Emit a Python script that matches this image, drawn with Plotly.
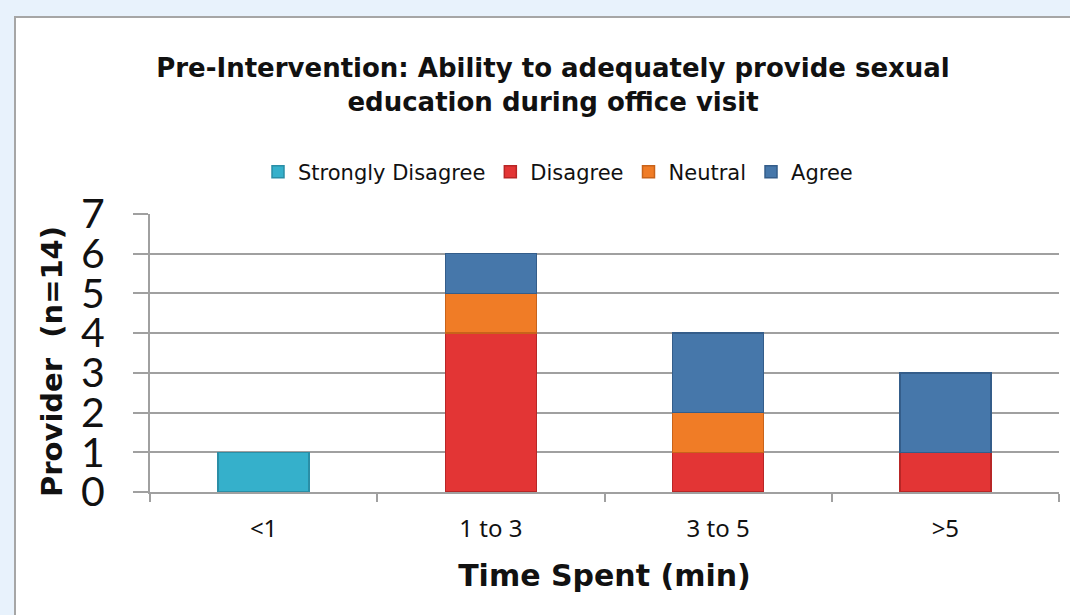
import plotly.graph_objects as go

categories = ["<1", "1 to 3", "3 to 5", ">5"]
strongly_disagree = [1, None, None, None]
disagree = [None, 4, 1, 1]
neutral = [None, 1, 1, None]
agree = [None, 1, 2, 2]
y_ticks = [0, 1, 2, 3, 4, 5, 6, 7]

series = [
    ("Strongly Disagree", strongly_disagree, "#35b0cb", "#2a8ea6"),
    ("Disagree", disagree, "#e33535", "#b82626"),
    ("Neutral", neutral, "#f07c26", "#c8631a"),
    ("Agree", agree, "#4677aa", "#345d8a"),
]

fig = go.Figure()
for name, vals, col, edge in series:
    fig.add_trace(go.Bar(
        x=categories, y=vals, name=name,
        marker=dict(color=col, line=dict(color=edge, width=1.5)),
    ))

W, H = 1070, 615
L, R, T, B = 150, 11, 214, 123
pw, ph = W - L - R, H - T - B

def px_x(p):
    return (p - L) / pw

def px_y(p):
    return (H - B - p) / ph

fig.add_shape(type="rect", xref="paper", yref="paper",
              x0=px_x(15), x1=px_x(1100), y0=px_y(17), y1=px_y(640),
              fillcolor="white", line=dict(color="#a6a6a6", width=2), layer="below")

fig.add_annotation(
    text="<b>Provider  (n=14)</b>", textangle=-90, showarrow=False,
    xref="paper", yref="paper", x=px_x(52), y=px_y(362),
    xanchor="center", yanchor="middle",
    font=dict(family="DejaVu Sans", size=29, color="#111111"),
)

fig.update_layout(
    width=W, height=H,
    margin=dict(l=L, r=R, t=T, b=B, autoexpand=False),
    paper_bgcolor="#e8f2fc",
    plot_bgcolor="#ebebeb",
    barmode="stack",
    bargap=0.6,
    title=dict(
        text="<b>Pre-Intervention: Ability to adequately provide sexual<br>education during office visit</b>",
        x=553 / W, xanchor="center", y=1 - 77 / H, yanchor="middle",
        font=dict(family="DejaVu Sans", size=26, color="#111111"),
    ),
    legend=dict(
        orientation="h", x=px_x(558), xanchor="center",
        y=px_y(172), yanchor="middle",
        font=dict(family="DejaVu Sans", size=21, color="#111111"),
        traceorder="normal",
        bgcolor="rgba(0,0,0,0)",
    ),
    xaxis=dict(
        tickson="boundaries", ticks="outside", ticklen=8, tickcolor="#a0a0a0", tickwidth=2,
        showline=True, linecolor="#a0a0a0", linewidth=2,
        tickfont=dict(family="Noto Sans", size=24, color="#111111"),
        ticklabelstandoff=14,
        title=dict(text="<b>Time Spent (min)</b>", font=dict(family="DejaVu Sans", size=30, color="#111111"), standoff=22),
        showgrid=False,
    ),
    yaxis=dict(
        range=[0, 7], tickvals=y_ticks, ticks="outside", ticklen=15, tickcolor="#a0a0a0", tickwidth=2,
        showline=True, linecolor="#a0a0a0", linewidth=2,
        gridcolor="#a0a0a0", gridwidth=2, zeroline=False,
        tickfont=dict(family="Lato", size=41, color="#111111"),
        ticklabelstandoff=20,
    ),
)

fig.write_html("out.html", config={"displayModeBar": False},
               post_script="document.body.style.margin='0';")
